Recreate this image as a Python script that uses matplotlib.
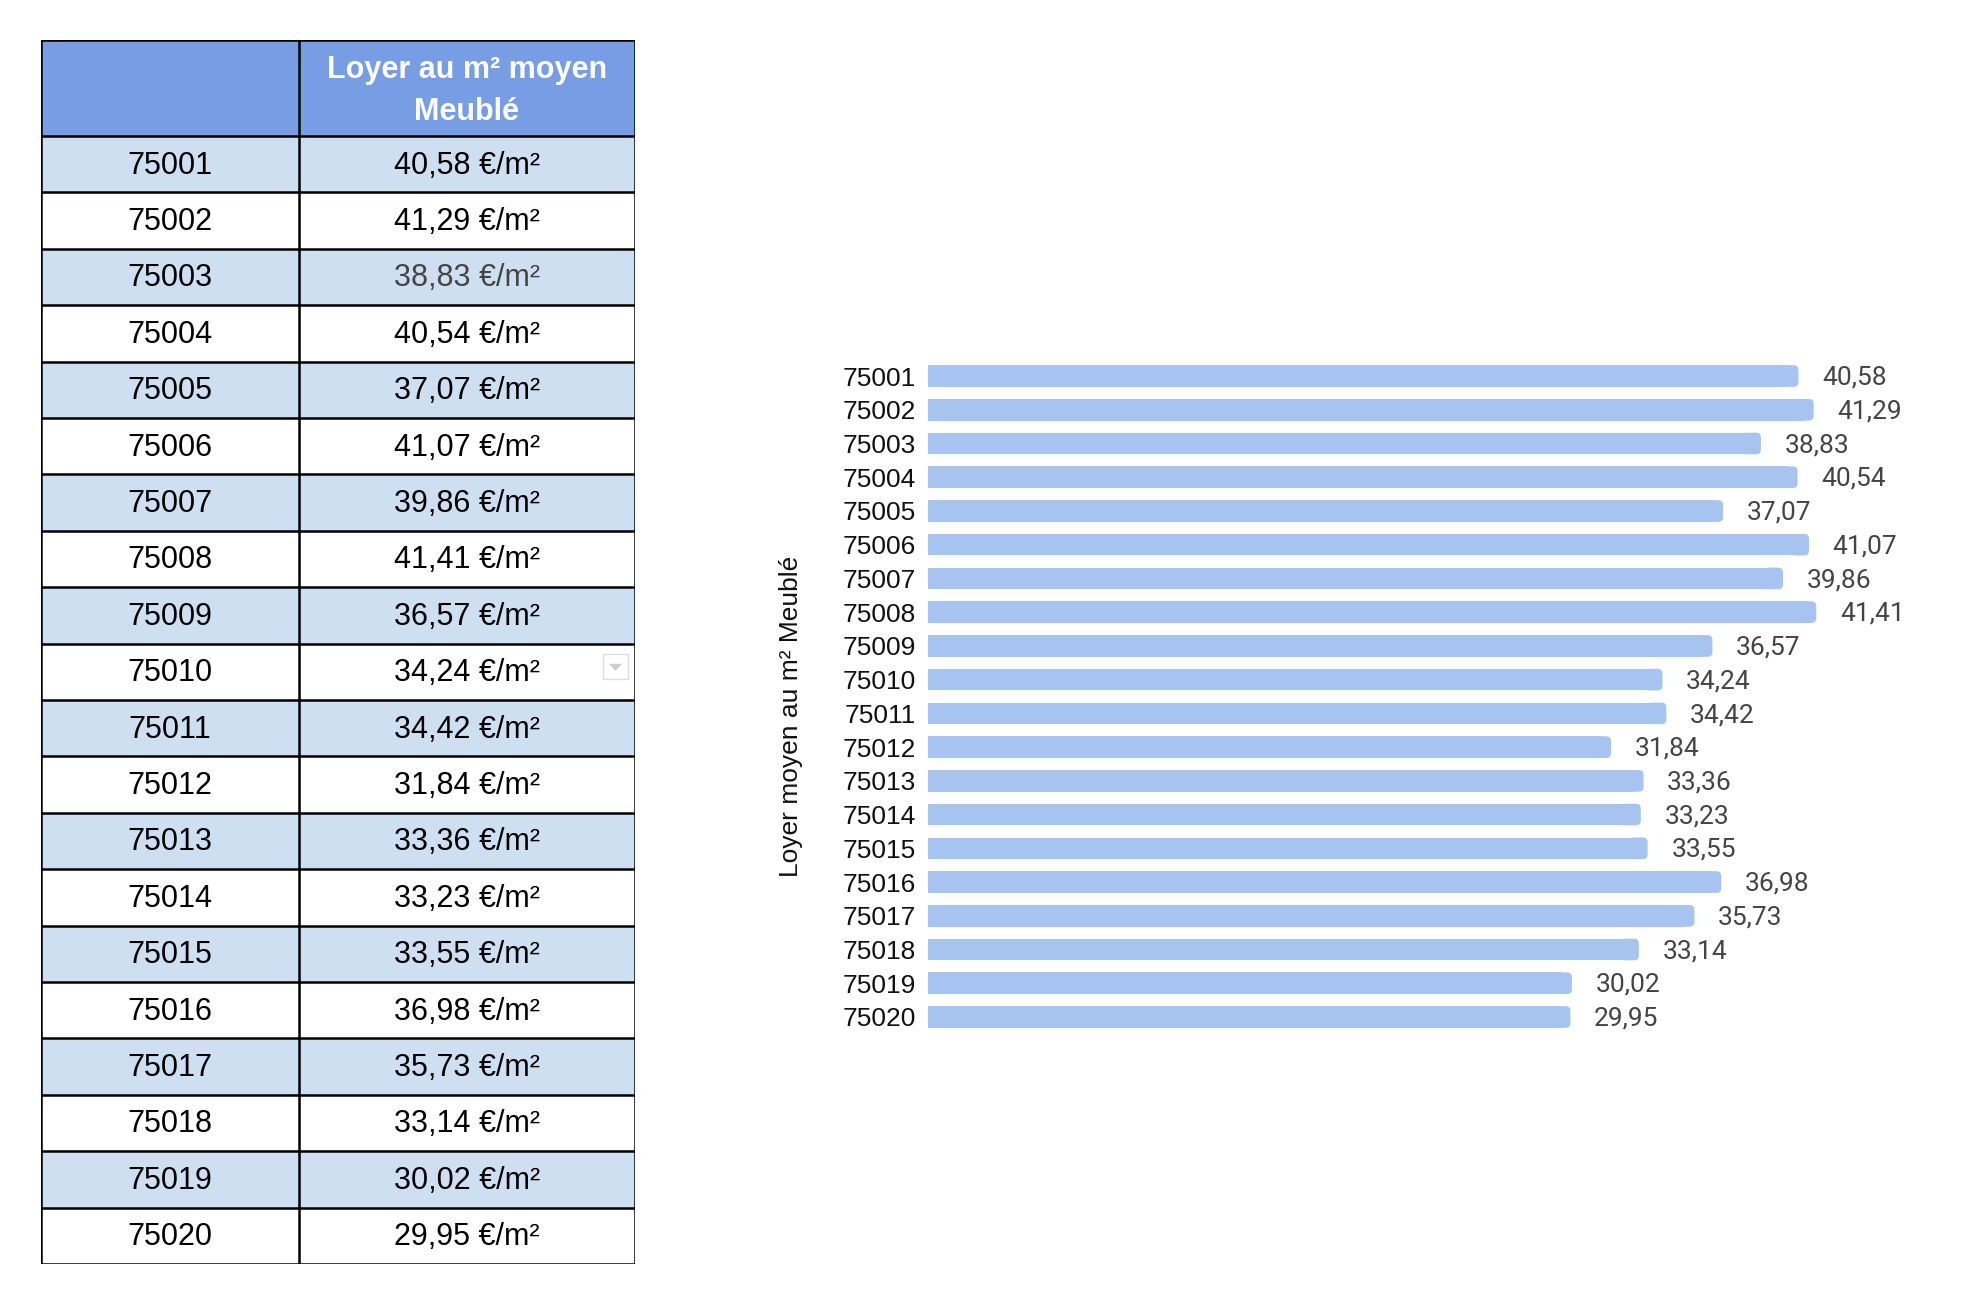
import matplotlib
matplotlib.use("Agg")
import matplotlib.pyplot as plt
from matplotlib.patches import Rectangle, FancyBboxPatch, Polygon

# data
codes = ["75001", "75002", "75003", "75004", "75005", "75006", "75007", "75008", "75009", "75010",
         "75011", "75012", "75013", "75014", "75015", "75016", "75017", "75018", "75019", "75020"]
loyers = [40.58, 41.29, 38.83, 40.54, 37.07, 41.07, 39.86, 41.41, 36.57, 34.24,
          34.42, 31.84, 33.36, 33.23, 33.55, 36.98, 35.73, 33.14, 30.02, 29.95]
header = "Loyer au m² moyen\nMeublé"
axis_label = "Loyer moyen au m² Meublé"

W, H = 1986, 1310
HEAD_BLUE = "#779ee4"
ROW_BLUE = "#cfdff2"
BAR_BLUE = "#a7c3ef"


def fmt(v):
    return f"{v:.2f}".replace(".", ",")


def px_axes(fig, x0, y0, x1, y1):
    # pixel box (top-left origin) -> figure axes
    return fig.add_axes([x0 / W, 1 - y1 / H, (x1 - x0) / W, (y1 - y0) / H])


fig = plt.figure(figsize=(W / 100, H / 100), dpi=100)

# ---- table ----
ax_t = px_axes(fig, 41, 40, 635, 1264)
tw, th = 594, 1224
col_x = [0, 258, 594]
head_h = 96
row_h = (th - head_h) / len(codes)
ax_t.set_xlim(0, tw)
ax_t.set_ylim(th, 0)
ax_t.axis("off")

ax_t.add_patch(Rectangle((0, 0), tw, head_h, facecolor=HEAD_BLUE, edgecolor="none"))
ax_t.text((col_x[1] + col_x[2]) / 2, head_h / 2 + 3, header, ha="center", va="center",
          color="white", fontsize=22, fontweight="bold", family="Liberation Sans",
          linespacing=1.5)

for i, (c, v) in enumerate(zip(codes, loyers)):
    y0 = head_h + i * row_h
    if i % 2 == 0:
        ax_t.add_patch(Rectangle((0, y0), tw, row_h, facecolor=ROW_BLUE, edgecolor="none"))
    yc = y0 + row_h / 2 + 1.5
    ax_t.text((col_x[0] + col_x[1]) / 2, yc, c, ha="center", va="center",
              fontsize=22, family="Liberation Sans", color="#000000")
    col = "#444444" if c == "75003" else "#000000"
    ax_t.text((col_x[1] + col_x[2]) / 2, yc, fmt(v) + " €/m²", ha="center", va="center",
              fontsize=22, family="Liberation Sans", color=col)

# dropdown chip on 75010 row
i10 = codes.index("75010")
yc10 = head_h + i10 * row_h + row_h / 2
ax_t.add_patch(Rectangle((562, yc10 - 18), 25, 25, facecolor="white", edgecolor="#dddddd", lw=1))
ax_t.add_patch(Polygon([[568, yc10 - 8], [581, yc10 - 8], [574.5, yc10 - 1]],
                       closed=True, facecolor="#cccccc", edgecolor="none"))

# grid lines
ys = [0, head_h] + [head_h + (i + 1) * row_h for i in range(len(codes))]
ax_t.hlines(ys, 0, tw, colors="black", lw=1.8)
ax_t.vlines(col_x, 0, th, colors="black", lw=1.8)

# ---- bar chart ----
n = len(codes)
slot = 33.7
top = 376 - slot / 2
bot = 1017 + slot / 2
xmax = 45
ax = px_axes(fig, 928, top, 928 + xmax * 21.45, bot)
ax.set_xlim(0, xmax)
ax.set_ylim(n - 0.5, -0.5)
for s in ax.spines.values():
    s.set_visible(False)
ax.set_xticks([])
ax.set_yticks(range(n))
ax.set_yticklabels(codes, family="Liberation Sans", fontsize=19, color="#111111")
ax.tick_params(axis="y", length=0, pad=9)

bh = 0.64
rad = 0.22  # x units
asp = (21.45 / slot)
for i, v in enumerate(loyers):
    ax.barh(i, v - 2 * rad, height=bh, color=BAR_BLUE, edgecolor="none")
    ax.add_patch(FancyBboxPatch((v - 4 * rad, i - bh / 2), 4 * rad, bh,
                                boxstyle=f"round,pad=0,rounding_size={rad}",
                                mutation_aspect=asp, facecolor=BAR_BLUE, edgecolor="none"))
    ax.annotate(fmt(v), (v, i), xytext=(17, -1.2), textcoords="offset points",
                ha="left", va="center", fontsize=19, family="Roboto", color="#444444")

fig.text(791 / W, 1 - 716 / H, axis_label, rotation=90, ha="center", va="center",
         fontsize=19, family="Liberation Sans", color="#111111")

fig.savefig("out.png", dpi=100, facecolor="white")
